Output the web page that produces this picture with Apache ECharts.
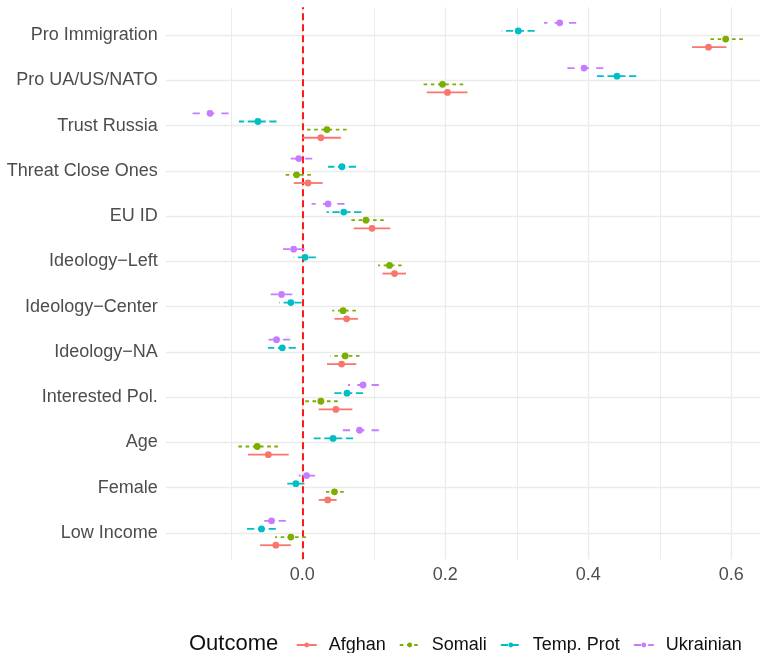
<!DOCTYPE html>
<html>
<head>
<meta charset="utf-8">
<script src="https://cdn.jsdelivr.net/npm/echarts@6/dist/echarts.min.js"></script>
<style>
  html, body { margin: 0; padding: 0; background: #fff; }
  #main { width: 760px; height: 653px; }
</style>
</head>
<body>
<div id="main"></div>
<script>
// categories, top to bottom
const categories = [
  "Pro Immigration", "Pro UA/US/NATO", "Trust Russia", "Threat Close Ones", "EU ID",
  "Ideology\u2212Left", "Ideology\u2212Center", "Ideology\u2212NA", "Interested Pol.",
  "Age", "Female", "Low Income"
];

const afghanEst = [0.568, 0.203, 0.026, 0.008, 0.0975, 0.129, 0.062, 0.055, 0.047, -0.0475, 0.0355, -0.037];
const afghanLo  = [0.545, 0.174, 0.000, -0.012, 0.072, 0.112, 0.045, 0.0345, 0.023, -0.076, 0.023, -0.059];
const afghanHi  = [0.593, 0.231, 0.054, 0.0285, 0.123, 0.145, 0.078, 0.0755, 0.070, -0.019, 0.048, -0.016];

const somaliEst = [0.592, 0.196, 0.0345, -0.008, 0.089, 0.122, 0.057, 0.060, 0.026, -0.063, 0.045, -0.016];
const somaliLo  = [0.568, 0.168, 0.006, -0.028, 0.064, 0.106, 0.042, 0.039, 0.002, -0.091, 0.033, -0.038];
const somaliHi  = [0.616, 0.225, 0.062, 0.012, 0.114, 0.139, 0.075, 0.080, 0.0495, -0.034, 0.058, 0.005];

const tempEst = [0.302, 0.440, -0.062, 0.0555, 0.058, 0.004, -0.016, -0.028, 0.0625, 0.043, -0.009, -0.057];
const tempLo  = [0.279, 0.412, -0.0886, 0.036, 0.034, -0.012, -0.032, -0.048, 0.040, 0.016, -0.021, -0.078];
const tempHi  = [0.325, 0.467, -0.036, 0.075, 0.0825, 0.019, -0.001, -0.009, 0.085, 0.071, 0.003, -0.037];

const ukrEst = [0.360, 0.394, -0.129, -0.005, 0.036, -0.012, -0.029, -0.036, 0.085, 0.080, 0.006, -0.043];
const ukrLo  = [0.338, 0.368, -0.154, -0.024, 0.013, -0.027, -0.045, -0.054, 0.064, 0.054, -0.005, -0.063];
const ukrHi  = [0.383, 0.421, -0.103, 0.014, 0.059, 0.003, -0.014, -0.017, 0.107, 0.107, 0.018, -0.023];

const xTicks = [-0.2, 0.8]; // extent of the labelled axis

const groups = [
  { name: "Afghan", color: "#F8766D", dash: null, offset: 12.2, est: afghanEst, lo: afghanLo, hi: afghanHi },
  { name: "Somali", color: "#7CAE00", dash: [3.6, 3.6], offset: 4.05, est: somaliEst, lo: somaliLo, hi: somaliHi },
  { name: "Temp. Prot", color: "#00BFC4", dash: [7.2, 3.6], offset: -4.05, est: tempEst, lo: tempLo, hi: tempHi },
  { name: "Ukrainian", color: "#C77CFF", dash: [7.2, 7.2], offset: -12.2, est: ukrEst, lo: ukrLo, hi: ukrHi }
];

function makeRenderItem(color, dash, offset) {
  return function (params, api) {
    const cat = api.value(0);
    const p = api.coord([api.value(1), cat]);
    const lo = api.coord([api.value(2), cat]);
    const hi = api.coord([api.value(3), cat]);
    const y = p[1] + offset;
    return {
      type: "group",
      children: [
        {
          type: "line",
          shape: { x1: hi[0], y1: y, x2: lo[0], y2: y },
          style: { stroke: color, lineWidth: 1.8, lineDash: dash }
        },
        {
          type: "circle",
          shape: { cx: p[0], cy: y, r: 3.4 },
          style: { fill: color }
        }
      ]
    };
  };
}

const font = "Liberation Sans";

// legend-only series (line icon with point)
const legendSeries = groups.map(function (g, k) {
  const s = {
    name: g.name,
    type: "line",
    xAxisIndex: 1,
    yAxisIndex: 1,
    data: [],
    symbol: "circle",
    color: g.color,
    lineStyle: { color: g.color, width: 1.5, type: g.dash || "solid" },
    itemStyle: { color: g.color }
  };
  if (k === 0) {
    s.markLine = {
      silent: true,
      symbol: ["none", "none"],
      label: { show: false },
      lineStyle: { color: "#ff1a1a", width: 2, type: [7, 4] },
      data: [{ xAxis: 0 }]
    };
  }
  return s;
});

const barSeries = groups.map(function (g) {
  return {
    name: g.name,
    type: "custom",
    xAxisIndex: 0,
    yAxisIndex: 0,
    z: 5,
    renderItem: makeRenderItem(g.color, g.dash, g.offset),
    encode: { x: [1, 2, 3], y: 0 },
    data: categories.map(function (c, i) { return [i, g.est[i], g.lo[i], g.hi[i]]; })
  };
});

let option = {
  animation: false,
  textStyle: { fontFamily: font },
  title: {
    text: "Outcome",
    left: 189,
    top: 633,
    padding: 0,
    textStyle: { fontFamily: font, fontSize: 22, fontWeight: "normal", color: "#111" }
  },
  legend: {
    data: groups.map(function (g) { return g.name; }),
    left: 295.7,
    top: 636,
    padding: 0,
    itemWidth: 20,
    itemHeight: 6,
    itemGap: 13,
    textStyle: { fontFamily: font, fontSize: 18, color: "#111", padding: [0, 0, 0, 7] }
  },
  grid: [
    { left: 165.7, right: 0, top: 35, bottom: 120, outerBoundsMode: "none", containLabel: false },
    { left: 159.3, width: 715, top: 7.3, bottom: 93.7, outerBoundsMode: "none", containLabel: false }
  ],
  xAxis: [
    { type: "value", gridIndex: 0, min: -0.191, max: 0.64, show: false },
    {
      type: "value",
      gridIndex: 1,
      min: xTicks[0],
      max: xTicks[1],
      interval: 0.2,
      axisLine: { show: false },
      axisTick: { show: false },
      axisLabel: {
        color: "#4d4d4d",
        fontSize: 18,
        fontFamily: font,
        margin: 7,
        showMinLabel: false,
        formatter: function (v) { return v.toFixed(1); }
      },
      splitLine: { show: true, showMinLine: false, lineStyle: { color: "#ebebeb", width: 1.3 } },
      minorTick: { show: false, splitNumber: 2 },
      minorSplitLine: { show: true, lineStyle: { color: "#ebebeb", width: 1 } }
    }
  ],
  yAxis: [
    {
      type: "category",
      gridIndex: 0,
      data: categories,
      inverse: true,
      boundaryGap: false,
      axisLine: { show: false },
      axisTick: { show: false },
      axisLabel: { color: "#4d4d4d", fontSize: 18, fontFamily: font, margin: 8 },
      splitLine: { show: true, lineStyle: { color: "#ebebeb", width: 1.3 } }
    },
    { type: "value", gridIndex: 1, min: 0, max: 1, show: false }
  ],
  series: legendSeries.concat(barSeries)
};

let myChart = echarts.init(document.getElementById("main"));
option && myChart.setOption(option);
</script>
</body>
</html>
